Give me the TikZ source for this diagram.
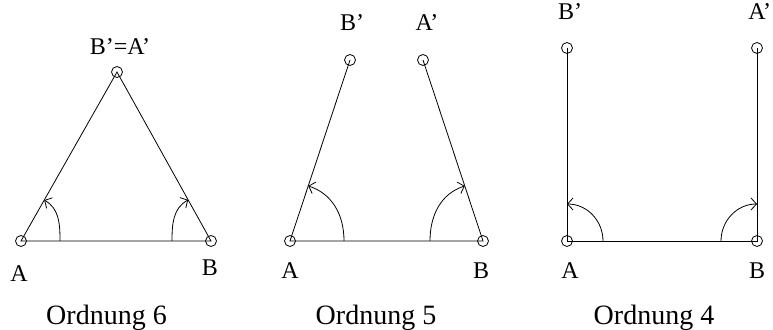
\documentclass[tikz,border=0pt]{standalone}
\usepackage{fontspec}
\setmainfont{Liberation Serif}
\usetikzlibrary{positioning,calc,arrows.meta}

\begin{document}
\begin{tikzpicture}[x=1pt,y=1pt,line width=0.8pt,font=\fontsize{24}{28}\selectfont]
	\tikzstyle{vertex}=[circle,draw,minimum size=11pt,inner sep=0pt]
	\tikzstyle{lbl}=[anchor=base,inner sep=0pt]
	\tikzstyle{titel}=[anchor=base,inner sep=0pt,font=\fontsize{28}{32}\selectfont]
	\tikzstyle{winkel}=[-{Straight Barb[length=5.5pt,width=12pt]}]
	\useasboundingbox (0,0) rectangle (773,329);
	\foreach \name/\x/\y in {A6/21/88, B6/211/88, C6/117/257, A5/290/88, B5/483/88, C5/350/269, D5/423/269, A4/567/88, B4/757/88, C4/567/281, D4/757/281}
		\node[vertex] (\name) at (\x,\y) {};

	% Ordnung 6
	\draw (A6.center) -- (B6.center) -- (C6.center) -- cycle;
	\draw[winkel] ($(A6)!39pt!(B6)$) to[out=90,in=-29] ($(A6)!47pt!(C6)$);
	\draw[winkel] ($(B6)!39pt!(A6)$) to[out=90,in=209] ($(B6)!47pt!(C6)$);
	\node[lbl] (la6) at (19,47) {A};
	\node[lbl] (lb6) at (210,53) {B};
	\node[lbl] (lc6) at (120,274) {B'=A'};
	\node[titel] (o6) at (106.5,5) {Ordnung 6};

	% Ordnung 5
	\draw (C5.center) -- (A5.center) -- (B5.center) -- (D5.center);
	\draw[winkel] ($(A5)!54pt!(B5)$) to[out=90,in=-18] ($(A5)!58pt!(C5)$);
	\draw[winkel] ($(B5)!53pt!(A5)$) to[out=90,in=198] ($(B5)!58pt!(D5)$);
	\node[lbl] (la5) at (290,50) {A};
	\node[lbl] (lb5) at (481,50) {B};
	\node[lbl] (lc5) at (352,298) {B'};
	\node[lbl] (ld5) at (427,298) {A'};
	\node[titel] (o5) at (376,5) {Ordnung 5};

	% Ordnung 4
	\draw (C4.center) -- (A4.center) -- (B4.center) -- (D4.center);
	\draw[winkel] ($(A4)!36pt!(B4)$) to[out=90,in=0] ($(A4)!37pt!(C4)$);
	\draw[winkel] ($(B4)!36pt!(A4)$) to[out=90,in=180] ($(B4)!37pt!(D4)$);
	\node[lbl] (la4) at (570,50) {A};
	\node[lbl] (lb4) at (757,50) {B};
	\node[lbl] (lc4) at (570,309) {B'};
	\node[lbl,anchor=base west] (ld4) at (748,309) {A'};
	\node[titel] (o4) at (654,5) {Ordnung 4};
\end{tikzpicture}
\end{document}
